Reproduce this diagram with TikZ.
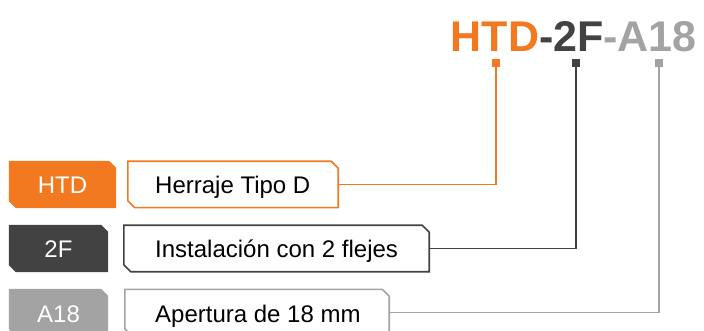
\documentclass[tikz,border=0pt]{standalone}
\usepackage{fontspec}
\setmainfont{Liberation Sans}
\definecolor{htdorange}{RGB}{243,121,33}
\definecolor{fdark}{RGB}{66,66,66}
\definecolor{agray}{RGB}{163,163,163}
\tikzstyle{codebox} = [rectangle, inner sep=0pt, minimum height=47, text=white, font=\fontsize{24}{28}\selectfont]
\tikzstyle{descbox} = [rectangle, inner sep=0pt, minimum height=46]
\tikzstyle{desc} = [anchor=base west, inner sep=0pt, font=\fontsize{24}{28}\selectfont]
\tikzstyle{pin} = [rectangle, minimum size=8, inner sep=0pt]
\tikzstyle{wire} = [line width=1.6pt]
% outline with cut top right and bottom left corners
\newcommand{\cutbox}[1]{(#1.north west) -- ([xshift=-7pt]#1.north east) -- ([yshift=-7pt]#1.north east)
  -- (#1.south east) -- ([xshift=7pt]#1.south west) -- ([yshift=7pt]#1.south west) -- cycle}

\begin{document}
\begin{tikzpicture}[x=1pt,y=-1pt]
\clip (0,0) rectangle (704,331);
\useasboundingbox (0,0) rectangle (704,331);

\node[anchor=base east, inner sep=0pt, font=\fontsize{43}{50}\selectfont\bfseries] (title) at (697,52)
  {\textcolor{htdorange}{HTD}\textcolor{fdark}{-2F}\textcolor{agray}{-A18}};

\node[pin, fill=htdorange] (htdpin) at (496,63) {};
\node[pin, fill=fdark]     (fpin)   at (576,63) {};
\node[pin, fill=agray]     (apin)   at (659,63) {};

\node[codebox, minimum width=107] (htd) at (62.5,184.5) {};
\node[codebox, minimum width=99]  (ftwo) at (58.5,248.5) {};
\node[codebox, minimum width=99]  (aeight) at (58.5,312.5) {};
\fill[htdorange] \cutbox{htd};
\fill[fdark]     \cutbox{ftwo};
\fill[agray]     \cutbox{aeight};
\node[desc, text=white, anchor=base] (htdcode) at (62.5,194) {HTD};
\node[desc, text=white, anchor=base] (ftwocode) at (58.5,258) {2F};
\node[desc, text=white, anchor=base] (aeightcode) at (58.5,322) {A18};

\node[descbox, minimum width=210] (htdbox) at (233,184.5) {};
\node[descbox, minimum width=305] (ftwobox) at (276.5,248.5) {};
\node[descbox, minimum width=264] (aeightbox) at (257,312.5) {};
\draw[wire, htdorange] \cutbox{htdbox};
\draw[wire, fdark]     \cutbox{ftwobox};
\draw[wire, agray]     \cutbox{aeightbox};

\node[desc] (htdtext) at (155,194) {Herraje Tipo D};
\node[desc] (ftwotext) at (155,258) {Instalación con 2 flejes};
\node[desc] (aeighttext) at (155,322) {Apertura de 18 mm};

\draw[wire, htdorange] (htdpin.center) |- (htdbox.east);
\draw[wire, fdark]     (fpin.center) |- (ftwobox.east);
\draw[wire, agray]     (apin.center) |- (aeightbox.east);

\end{tikzpicture}
\end{document}
